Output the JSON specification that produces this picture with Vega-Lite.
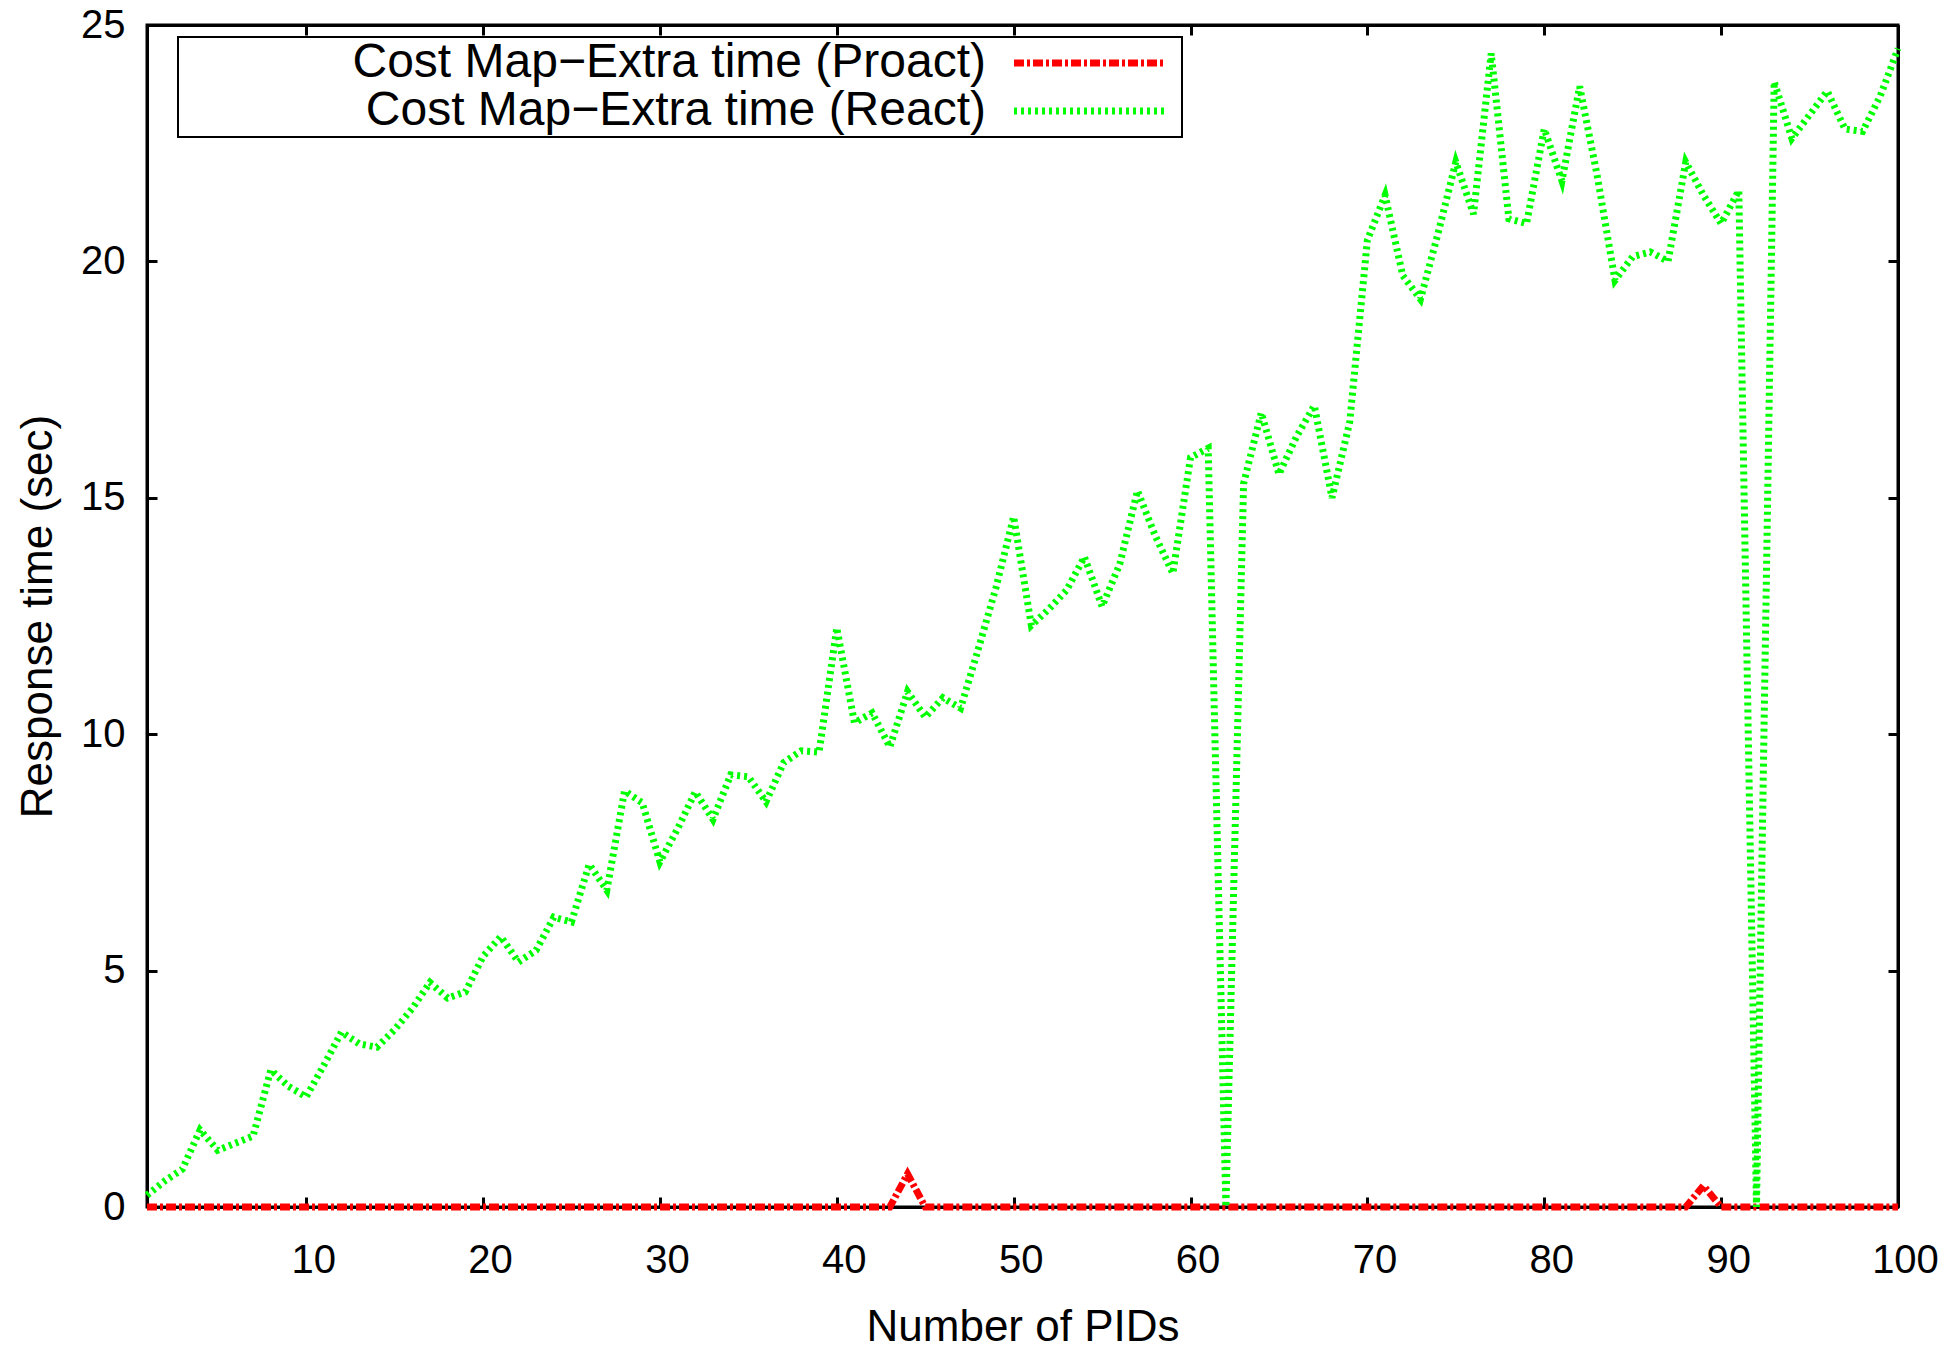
{
  "$schema": "https://vega.github.io/schema/vega-lite/v6.json",
  "width": 1751,
  "height": 1182,
  "autosize": {"type": "none"},
  "padding": {"left": 147, "top": 25, "right": 51, "bottom": 145},
  "background": "white",
  "config": {
    "view": {"stroke": "black", "strokeWidth": 3},
    "font": "Liberation Sans Narrow, Liberation Sans, Arial, sans-serif",
    "axis": {
      "grid": false,
      "domainColor": "black",
      "domainWidth": 3,
      "tickColor": "black",
      "tickWidth": 3,
      "tickSize": -10,
      "labelFlush": false,
      "labelColor": "black",
      "titleColor": "black",
      "labelFontSize": 40,
      "titleFontSize": 44,
      "titleFontWeight": "normal",
      "labelFont": "Liberation Sans Narrow, Liberation Sans, Arial, sans-serif",
      "titleFont": "Liberation Sans Narrow, Liberation Sans, Arial, sans-serif"
    },
    "legend": {
      "strokeWidth": 2,
      "labelFont": "Liberation Sans Narrow, Liberation Sans, Arial, sans-serif"
    }
  },
  "datasets": {
    "pts": [
      {"pid": 1, "series": "Cost Map−Extra time (Proact)", "time": 0},
      {"pid": 2, "series": "Cost Map−Extra time (Proact)", "time": 0},
      {"pid": 3, "series": "Cost Map−Extra time (Proact)", "time": 0},
      {"pid": 4, "series": "Cost Map−Extra time (Proact)", "time": 0},
      {"pid": 5, "series": "Cost Map−Extra time (Proact)", "time": 0},
      {"pid": 6, "series": "Cost Map−Extra time (Proact)", "time": 0},
      {"pid": 7, "series": "Cost Map−Extra time (Proact)", "time": 0},
      {"pid": 8, "series": "Cost Map−Extra time (Proact)", "time": 0},
      {"pid": 9, "series": "Cost Map−Extra time (Proact)", "time": 0},
      {"pid": 10, "series": "Cost Map−Extra time (Proact)", "time": 0},
      {"pid": 11, "series": "Cost Map−Extra time (Proact)", "time": 0},
      {"pid": 12, "series": "Cost Map−Extra time (Proact)", "time": 0},
      {"pid": 13, "series": "Cost Map−Extra time (Proact)", "time": 0},
      {"pid": 14, "series": "Cost Map−Extra time (Proact)", "time": 0},
      {"pid": 15, "series": "Cost Map−Extra time (Proact)", "time": 0},
      {"pid": 16, "series": "Cost Map−Extra time (Proact)", "time": 0},
      {"pid": 17, "series": "Cost Map−Extra time (Proact)", "time": 0},
      {"pid": 18, "series": "Cost Map−Extra time (Proact)", "time": 0},
      {"pid": 19, "series": "Cost Map−Extra time (Proact)", "time": 0},
      {"pid": 20, "series": "Cost Map−Extra time (Proact)", "time": 0},
      {"pid": 21, "series": "Cost Map−Extra time (Proact)", "time": 0},
      {"pid": 22, "series": "Cost Map−Extra time (Proact)", "time": 0},
      {"pid": 23, "series": "Cost Map−Extra time (Proact)", "time": 0},
      {"pid": 24, "series": "Cost Map−Extra time (Proact)", "time": 0},
      {"pid": 25, "series": "Cost Map−Extra time (Proact)", "time": 0},
      {"pid": 26, "series": "Cost Map−Extra time (Proact)", "time": 0},
      {"pid": 27, "series": "Cost Map−Extra time (Proact)", "time": 0},
      {"pid": 28, "series": "Cost Map−Extra time (Proact)", "time": 0},
      {"pid": 29, "series": "Cost Map−Extra time (Proact)", "time": 0},
      {"pid": 30, "series": "Cost Map−Extra time (Proact)", "time": 0},
      {"pid": 31, "series": "Cost Map−Extra time (Proact)", "time": 0},
      {"pid": 32, "series": "Cost Map−Extra time (Proact)", "time": 0},
      {"pid": 33, "series": "Cost Map−Extra time (Proact)", "time": 0},
      {"pid": 34, "series": "Cost Map−Extra time (Proact)", "time": 0},
      {"pid": 35, "series": "Cost Map−Extra time (Proact)", "time": 0},
      {"pid": 36, "series": "Cost Map−Extra time (Proact)", "time": 0},
      {"pid": 37, "series": "Cost Map−Extra time (Proact)", "time": 0},
      {"pid": 38, "series": "Cost Map−Extra time (Proact)", "time": 0},
      {"pid": 39, "series": "Cost Map−Extra time (Proact)", "time": 0},
      {"pid": 40, "series": "Cost Map−Extra time (Proact)", "time": 0},
      {"pid": 41, "series": "Cost Map−Extra time (Proact)", "time": 0},
      {"pid": 42, "series": "Cost Map−Extra time (Proact)", "time": 0},
      {"pid": 43, "series": "Cost Map−Extra time (Proact)", "time": 0},
      {"pid": 44, "series": "Cost Map−Extra time (Proact)", "time": 0.7},
      {"pid": 45, "series": "Cost Map−Extra time (Proact)", "time": 0},
      {"pid": 46, "series": "Cost Map−Extra time (Proact)", "time": 0},
      {"pid": 47, "series": "Cost Map−Extra time (Proact)", "time": 0},
      {"pid": 48, "series": "Cost Map−Extra time (Proact)", "time": 0},
      {"pid": 49, "series": "Cost Map−Extra time (Proact)", "time": 0},
      {"pid": 50, "series": "Cost Map−Extra time (Proact)", "time": 0},
      {"pid": 51, "series": "Cost Map−Extra time (Proact)", "time": 0},
      {"pid": 52, "series": "Cost Map−Extra time (Proact)", "time": 0},
      {"pid": 53, "series": "Cost Map−Extra time (Proact)", "time": 0},
      {"pid": 54, "series": "Cost Map−Extra time (Proact)", "time": 0},
      {"pid": 55, "series": "Cost Map−Extra time (Proact)", "time": 0},
      {"pid": 56, "series": "Cost Map−Extra time (Proact)", "time": 0},
      {"pid": 57, "series": "Cost Map−Extra time (Proact)", "time": 0},
      {"pid": 58, "series": "Cost Map−Extra time (Proact)", "time": 0},
      {"pid": 59, "series": "Cost Map−Extra time (Proact)", "time": 0},
      {"pid": 60, "series": "Cost Map−Extra time (Proact)", "time": 0},
      {"pid": 61, "series": "Cost Map−Extra time (Proact)", "time": 0},
      {"pid": 62, "series": "Cost Map−Extra time (Proact)", "time": 0},
      {"pid": 63, "series": "Cost Map−Extra time (Proact)", "time": 0},
      {"pid": 64, "series": "Cost Map−Extra time (Proact)", "time": 0},
      {"pid": 65, "series": "Cost Map−Extra time (Proact)", "time": 0},
      {"pid": 66, "series": "Cost Map−Extra time (Proact)", "time": 0},
      {"pid": 67, "series": "Cost Map−Extra time (Proact)", "time": 0},
      {"pid": 68, "series": "Cost Map−Extra time (Proact)", "time": 0},
      {"pid": 69, "series": "Cost Map−Extra time (Proact)", "time": 0},
      {"pid": 70, "series": "Cost Map−Extra time (Proact)", "time": 0},
      {"pid": 71, "series": "Cost Map−Extra time (Proact)", "time": 0},
      {"pid": 72, "series": "Cost Map−Extra time (Proact)", "time": 0},
      {"pid": 73, "series": "Cost Map−Extra time (Proact)", "time": 0},
      {"pid": 74, "series": "Cost Map−Extra time (Proact)", "time": 0},
      {"pid": 75, "series": "Cost Map−Extra time (Proact)", "time": 0},
      {"pid": 76, "series": "Cost Map−Extra time (Proact)", "time": 0},
      {"pid": 77, "series": "Cost Map−Extra time (Proact)", "time": 0},
      {"pid": 78, "series": "Cost Map−Extra time (Proact)", "time": 0},
      {"pid": 79, "series": "Cost Map−Extra time (Proact)", "time": 0},
      {"pid": 80, "series": "Cost Map−Extra time (Proact)", "time": 0},
      {"pid": 81, "series": "Cost Map−Extra time (Proact)", "time": 0},
      {"pid": 82, "series": "Cost Map−Extra time (Proact)", "time": 0},
      {"pid": 83, "series": "Cost Map−Extra time (Proact)", "time": 0},
      {"pid": 84, "series": "Cost Map−Extra time (Proact)", "time": 0},
      {"pid": 85, "series": "Cost Map−Extra time (Proact)", "time": 0},
      {"pid": 86, "series": "Cost Map−Extra time (Proact)", "time": 0},
      {"pid": 87, "series": "Cost Map−Extra time (Proact)", "time": 0},
      {"pid": 88, "series": "Cost Map−Extra time (Proact)", "time": 0},
      {"pid": 89, "series": "Cost Map−Extra time (Proact)", "time": 0.45},
      {"pid": 90, "series": "Cost Map−Extra time (Proact)", "time": 0},
      {"pid": 91, "series": "Cost Map−Extra time (Proact)", "time": 0},
      {"pid": 92, "series": "Cost Map−Extra time (Proact)", "time": 0},
      {"pid": 93, "series": "Cost Map−Extra time (Proact)", "time": 0},
      {"pid": 94, "series": "Cost Map−Extra time (Proact)", "time": 0},
      {"pid": 95, "series": "Cost Map−Extra time (Proact)", "time": 0},
      {"pid": 96, "series": "Cost Map−Extra time (Proact)", "time": 0},
      {"pid": 97, "series": "Cost Map−Extra time (Proact)", "time": 0},
      {"pid": 98, "series": "Cost Map−Extra time (Proact)", "time": 0},
      {"pid": 99, "series": "Cost Map−Extra time (Proact)", "time": 0},
      {"pid": 100, "series": "Cost Map−Extra time (Proact)", "time": 0},
      {"pid": 1, "series": "Cost Map−Extra time (React)", "time": 0.25},
      {"pid": 2, "series": "Cost Map−Extra time (React)", "time": 0.55},
      {"pid": 3, "series": "Cost Map−Extra time (React)", "time": 0.8},
      {"pid": 4, "series": "Cost Map−Extra time (React)", "time": 1.63},
      {"pid": 5, "series": "Cost Map−Extra time (React)", "time": 1.2},
      {"pid": 6, "series": "Cost Map−Extra time (React)", "time": 1.35},
      {"pid": 7, "series": "Cost Map−Extra time (React)", "time": 1.5},
      {"pid": 8, "series": "Cost Map−Extra time (React)", "time": 2.9},
      {"pid": 9, "series": "Cost Map−Extra time (React)", "time": 2.55},
      {"pid": 10, "series": "Cost Map−Extra time (React)", "time": 2.33},
      {"pid": 11, "series": "Cost Map−Extra time (React)", "time": 3.0},
      {"pid": 12, "series": "Cost Map−Extra time (React)", "time": 3.7},
      {"pid": 13, "series": "Cost Map−Extra time (React)", "time": 3.45},
      {"pid": 14, "series": "Cost Map−Extra time (React)", "time": 3.38},
      {"pid": 15, "series": "Cost Map−Extra time (React)", "time": 3.75},
      {"pid": 16, "series": "Cost Map−Extra time (React)", "time": 4.2},
      {"pid": 17, "series": "Cost Map−Extra time (React)", "time": 4.75},
      {"pid": 18, "series": "Cost Map−Extra time (React)", "time": 4.42},
      {"pid": 19, "series": "Cost Map−Extra time (React)", "time": 4.55},
      {"pid": 20, "series": "Cost Map−Extra time (React)", "time": 5.3},
      {"pid": 21, "series": "Cost Map−Extra time (React)", "time": 5.72},
      {"pid": 22, "series": "Cost Map−Extra time (React)", "time": 5.18},
      {"pid": 23, "series": "Cost Map−Extra time (React)", "time": 5.43},
      {"pid": 24, "series": "Cost Map−Extra time (React)", "time": 6.13},
      {"pid": 25, "series": "Cost Map−Extra time (React)", "time": 6.03},
      {"pid": 26, "series": "Cost Map−Extra time (React)", "time": 7.25},
      {"pid": 27, "series": "Cost Map−Extra time (React)", "time": 6.7},
      {"pid": 28, "series": "Cost Map−Extra time (React)", "time": 8.8},
      {"pid": 29, "series": "Cost Map−Extra time (React)", "time": 8.55},
      {"pid": 30, "series": "Cost Map−Extra time (React)", "time": 7.3},
      {"pid": 31, "series": "Cost Map−Extra time (React)", "time": 8.0},
      {"pid": 32, "series": "Cost Map−Extra time (React)", "time": 8.78},
      {"pid": 33, "series": "Cost Map−Extra time (React)", "time": 8.2},
      {"pid": 34, "series": "Cost Map−Extra time (React)", "time": 9.14},
      {"pid": 35, "series": "Cost Map−Extra time (React)", "time": 9.1},
      {"pid": 36, "series": "Cost Map−Extra time (React)", "time": 8.57},
      {"pid": 37, "series": "Cost Map−Extra time (React)", "time": 9.4},
      {"pid": 38, "series": "Cost Map−Extra time (React)", "time": 9.65},
      {"pid": 39, "series": "Cost Map−Extra time (React)", "time": 9.62},
      {"pid": 40, "series": "Cost Map−Extra time (React)", "time": 12.25},
      {"pid": 41, "series": "Cost Map−Extra time (React)", "time": 10.24},
      {"pid": 42, "series": "Cost Map−Extra time (React)", "time": 10.45},
      {"pid": 43, "series": "Cost Map−Extra time (React)", "time": 9.73},
      {"pid": 44, "series": "Cost Map−Extra time (React)", "time": 10.9},
      {"pid": 45, "series": "Cost Map−Extra time (React)", "time": 10.36},
      {"pid": 46, "series": "Cost Map−Extra time (React)", "time": 10.77},
      {"pid": 47, "series": "Cost Map−Extra time (React)", "time": 10.55},
      {"pid": 48, "series": "Cost Map−Extra time (React)", "time": 11.8},
      {"pid": 49, "series": "Cost Map−Extra time (React)", "time": 13.1},
      {"pid": 50, "series": "Cost Map−Extra time (React)", "time": 14.6},
      {"pid": 51, "series": "Cost Map−Extra time (React)", "time": 12.3},
      {"pid": 52, "series": "Cost Map−Extra time (React)", "time": 12.65},
      {"pid": 53, "series": "Cost Map−Extra time (React)", "time": 13.05},
      {"pid": 54, "series": "Cost Map−Extra time (React)", "time": 13.75},
      {"pid": 55, "series": "Cost Map−Extra time (React)", "time": 12.7},
      {"pid": 56, "series": "Cost Map−Extra time (React)", "time": 13.6},
      {"pid": 57, "series": "Cost Map−Extra time (React)", "time": 15.15},
      {"pid": 58, "series": "Cost Map−Extra time (React)", "time": 14.2},
      {"pid": 59, "series": "Cost Map−Extra time (React)", "time": 13.4},
      {"pid": 60, "series": "Cost Map−Extra time (React)", "time": 15.85},
      {"pid": 61, "series": "Cost Map−Extra time (React)", "time": 16.05},
      {"pid": 62, "series": "Cost Map−Extra time (React)", "time": 0},
      {"pid": 63, "series": "Cost Map−Extra time (React)", "time": 15.3},
      {"pid": 64, "series": "Cost Map−Extra time (React)", "time": 16.8},
      {"pid": 65, "series": "Cost Map−Extra time (React)", "time": 15.5},
      {"pid": 66, "series": "Cost Map−Extra time (React)", "time": 16.3},
      {"pid": 67, "series": "Cost Map−Extra time (React)", "time": 16.95},
      {"pid": 68, "series": "Cost Map−Extra time (React)", "time": 15.0},
      {"pid": 69, "series": "Cost Map−Extra time (React)", "time": 16.6},
      {"pid": 70, "series": "Cost Map−Extra time (React)", "time": 20.45},
      {"pid": 71, "series": "Cost Map−Extra time (React)", "time": 21.4},
      {"pid": 72, "series": "Cost Map−Extra time (React)", "time": 19.7},
      {"pid": 73, "series": "Cost Map−Extra time (React)", "time": 19.2},
      {"pid": 74, "series": "Cost Map−Extra time (React)", "time": 20.6},
      {"pid": 75, "series": "Cost Map−Extra time (React)", "time": 22.1},
      {"pid": 76, "series": "Cost Map−Extra time (React)", "time": 21.0},
      {"pid": 77, "series": "Cost Map−Extra time (React)", "time": 24.4},
      {"pid": 78, "series": "Cost Map−Extra time (React)", "time": 20.9},
      {"pid": 79, "series": "Cost Map−Extra time (React)", "time": 20.8},
      {"pid": 80, "series": "Cost Map−Extra time (React)", "time": 22.8},
      {"pid": 81, "series": "Cost Map−Extra time (React)", "time": 21.7},
      {"pid": 82, "series": "Cost Map−Extra time (React)", "time": 23.7},
      {"pid": 83, "series": "Cost Map−Extra time (React)", "time": 21.8},
      {"pid": 84, "series": "Cost Map−Extra time (React)", "time": 19.6},
      {"pid": 85, "series": "Cost Map−Extra time (React)", "time": 20.1},
      {"pid": 86, "series": "Cost Map−Extra time (React)", "time": 20.2},
      {"pid": 87, "series": "Cost Map−Extra time (React)", "time": 20.0},
      {"pid": 88, "series": "Cost Map−Extra time (React)", "time": 22.1},
      {"pid": 89, "series": "Cost Map−Extra time (React)", "time": 21.4},
      {"pid": 90, "series": "Cost Map−Extra time (React)", "time": 20.8},
      {"pid": 91, "series": "Cost Map−Extra time (React)", "time": 21.5},
      {"pid": 92, "series": "Cost Map−Extra time (React)", "time": 0},
      {"pid": 93, "series": "Cost Map−Extra time (React)", "time": 23.8},
      {"pid": 94, "series": "Cost Map−Extra time (React)", "time": 22.6},
      {"pid": 95, "series": "Cost Map−Extra time (React)", "time": 23.1},
      {"pid": 96, "series": "Cost Map−Extra time (React)", "time": 23.6},
      {"pid": 97, "series": "Cost Map−Extra time (React)", "time": 22.8},
      {"pid": 98, "series": "Cost Map−Extra time (React)", "time": 22.75},
      {"pid": 99, "series": "Cost Map−Extra time (React)", "time": 23.5},
      {"pid": 100, "series": "Cost Map−Extra time (React)", "time": 24.5}
    ]
  },
  "data": {"name": "pts"},
  "layer": [
    {
      "mark": {"type": "line", "strokeWidth": 7, "strokeCap": "butt", "strokeJoin": "miter"},
      "encoding": {
        "x": {
          "field": "pid", "type": "quantitative",
          "scale": {"domain": [1, 100], "nice": false, "zero": false},
          "axis": {"values": [10, 20, 30, 40, 50, 60, 70, 80, 90, 100], "title": "Number of PIDs", "labelPadding": 63, "labelBaseline": "middle", "labelOffset": 7, "titlePadding": 25}
        },
        "y": {
          "field": "time", "type": "quantitative",
          "scale": {"domain": [0, 25], "nice": false},
          "axis": {"values": [0, 5, 10, 15, 20, 25], "title": "Response time (sec)", "labelPadding": 32, "titlePadding": 20}
        },
        "color": {
          "field": "series", "type": "nominal",
          "scale": {"domain": ["Cost Map−Extra time (Proact)", "Cost Map−Extra time (React)"], "range": ["#ff0000", "#00ff00"]},
          "legend": {"orient": "none", "legendX": 31, "legendY": 12, "title": null, "strokeColor": "black", "padding": 2, "rowPadding": -8, "symbolType": "M-4,0H4", "symbolSize": 1444, "symbolStrokeWidth": 7, "symbolOffset": 886, "labelOffset": -128, "labelAlign": "right", "labelFontSize": 48, "labelLimit": 1000, "labelColor": "black"}
        },
        "strokeDash": {
          "field": "series", "type": "nominal",
          "scale": {"domain": ["Cost Map−Extra time (Proact)", "Cost Map−Extra time (React)"], "range": [[10, 3, 3, 3], [3, 4]]},
          "legend": {"orient": "none", "legendX": 31, "legendY": 12, "title": null, "strokeColor": "black", "padding": 2, "rowPadding": -8, "symbolType": "M-4,0H4", "symbolSize": 1444, "symbolStrokeWidth": 7, "symbolOffset": 886, "labelOffset": -128, "labelAlign": "right", "labelFontSize": 48, "labelLimit": 1000, "labelColor": "black"}
        }
      }
    },
    {
      "mark": {"type": "point", "opacity": 0},
      "encoding": {
        "x": {
          "field": "pid", "type": "quantitative",
          "axis": {"orient": "top", "values": [10, 20, 30, 40, 50, 60, 70, 80, 90, 100], "labels": false, "title": null}
        },
        "y": {
          "field": "time", "type": "quantitative",
          "axis": {"orient": "right", "values": [0, 5, 10, 15, 20, 25], "labels": false, "title": null}
        }
      }
    }
  ],
  "resolve": {"axis": {"x": "independent", "y": "independent"}}
}
